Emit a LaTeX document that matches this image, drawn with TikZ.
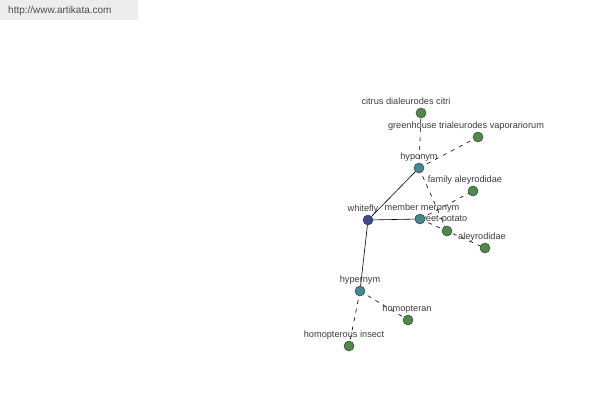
\documentclass[tikz,border=0pt]{standalone}
\usepackage{fontspec}
\setmainfont{Liberation Sans}
\definecolor{leafg}{RGB}{78,138,72}
\definecolor{relt}{RGB}{62,140,146}
\definecolor{rootb}{RGB}{62,72,146}
\definecolor{txtc}{RGB}{60,60,60}
\begin{document}
\begin{tikzpicture}[x=1pt,y=-1pt,
  dot/.style={circle,draw=black!75,line width=0.5pt,inner sep=0pt,minimum size=10pt},
  leaf/.style={dot,fill=leafg},
  rel/.style={dot,fill=relt},
  root/.style={dot,fill=rootb},
  lbl/.style={font=\fontsize{9.2}{11}\selectfont,text=txtc,inner sep=0pt},
  solidedge/.style={draw=black,line width=0.6pt},
  dashedge/.style={draw=black,line width=0.6pt,dash pattern=on 4pt off 5pt}]
\useasboundingbox (0,0) rectangle (600,400);
\fill[black!7] (0,0) rectangle (138,20);
\node[font=\fontsize{10}{12}\selectfont,text=black!70,inner sep=0pt,anchor=west] (url) at (8,11) {http://www.artikata.com};
% coordinates of nodes
\coordinate (pwf) at (368,220);
\coordinate (phypo) at (419,168);
\coordinate (pmm) at (420,219);
\coordinate (phyper) at (360,291);
\coordinate (pcit) at (421,113);
\coordinate (pgh) at (478,137);
\coordinate (pfam) at (473,191);
\coordinate (psp) at (447,231);
\coordinate (paley) at (485,248);
\coordinate (phomo) at (408,320);
\coordinate (phins) at (349,346);
% edges
\draw[solidedge] (pwf) -- (phypo);
\draw[solidedge] (pwf) -- (pmm);
\draw[solidedge] (pwf) -- (phyper);
\draw[dashedge] (phypo) -- (pcit);
\draw[dashedge] (phypo) -- (pgh);
\draw[dashedge] (phypo) -- (psp);
\draw[dashedge] (pmm) -- (pfam);
\draw[dashedge] (pmm) -- (paley);
\draw[dashedge] (phyper) -- (phomo);
\draw[dashedge] (phyper) -- (phins);
% labels
\node[lbl] (lwf) at (363,209.5) {whitefly};
\node[lbl] (lhypo) at (419,157.5) {hyponym};
\node[lbl] (lmm) at (422,208.5) {member meronym};
\node[lbl] (lhyper) at (360,280.5) {hypernym};
\node[lbl] (lcit) at (406,101.5) {citrus dialeurodes citri};
\node[lbl] (lgh) at (466,126.5) {greenhouse trialeurodes vaporariorum};
\node[lbl] (lfam) at (465,180.5) {family aleyrodidae};
\node[lbl] (lsp) at (441,219.5) {sweet-potato};
\node[lbl] (laley) at (482,237.5) {aleyrodidae};
\node[lbl] (lhomo) at (407,309.5) {homopteran};
\node[lbl] (lhins) at (344,335.5) {homopterous insect};
% nodes
\node[root] (wf) at (pwf) {};
\node[rel] (hypo) at (phypo) {};
\node[rel] (mm) at (pmm) {};
\node[rel] (hyper) at (phyper) {};
\node[leaf] (cit) at (pcit) {};
\node[leaf] (gh) at (pgh) {};
\node[leaf] (fam) at (pfam) {};
\node[leaf] (sp) at (psp) {};
\node[leaf] (aley) at (paley) {};
\node[leaf] (homo) at (phomo) {};
\node[leaf] (hins) at (phins) {};
\end{tikzpicture}
\end{document}
